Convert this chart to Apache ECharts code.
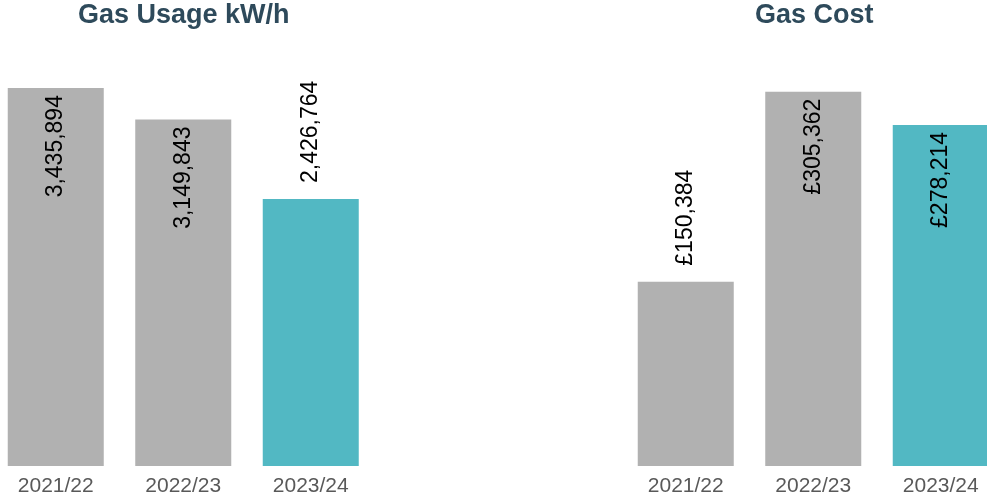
<!DOCTYPE html>
<html>
<head>
<meta charset="utf-8">
<script src="https://cdn.jsdelivr.net/npm/echarts@6/dist/echarts.min.js"></script>
<style>html,body{margin:0;padding:0;background:#fff;}#c{width:987px;height:503px;}</style>
</head>
<body>
<div id="c"></div>
<script>
const categories = ['2021/22', '2022/23', '2023/24'];
const gasUsage = [3435894, 3149843, 2426764];
const gasCost = [150384, 305362, 278214];
const titles = ['Gas Usage kW/h', 'Gas Cost'];

// label placement per bar (style config)
const usageInside = [true, true, false];
const costInside = [false, true, true];

const GREY = '#b1b1b1', TEAL = '#52b8c3';
const FONT = '"Liberation Sans", Arial, sans-serif';
const fmtNum = v => v.toLocaleString('en-GB');

function items(values, inside) {
  return values.map((v, i) => ({
    value: v,
    itemStyle: { color: i === values.length - 1 ? TEAL : GREY },
    label: inside[i]
      ? { position: 'insideTop', distance: 7, rotate: 90, align: 'right', verticalAlign: 'middle' }
      : { position: 'top', distance: 16, rotate: 90, align: 'left', verticalAlign: 'middle' }
  }));
}

const labelBase = { show: true, color: '#000', fontSize: 23, fontFamily: FONT };

const chart = echarts.init(document.getElementById('c'));
chart.setOption({
  animation: false,
  title: [
    { text: titles[0], left: 78, top: 2, padding: 0, textStyle: { fontSize: 27, fontWeight: 'bold', color: '#2e4a5b', fontFamily: FONT } },
    { text: titles[1], left: 755, top: 2, padding: 0, textStyle: { fontSize: 27, fontWeight: 'bold', color: '#2e4a5b', fontFamily: FONT } }
  ],
  grid: [
    { left: -8, width: 382.5, top: 26, height: 440, containLabel: false, outerBoundsMode: 'none' },
    { left: 622, width: 382.5, top: 37, height: 429, containLabel: false, outerBoundsMode: 'none' }
  ],
  xAxis: [0, 1].map(g => ({
    type: 'category', gridIndex: g, data: categories,
    axisLine: { show: false }, axisTick: { show: false },
    axisLabel: { fontSize: 21, color: '#595959', margin: 10, fontFamily: FONT }
  })),
  yAxis: [
    { type: 'value', gridIndex: 0, min: 0, max: 4000000, show: false, splitLine: { show: false } },
    { type: 'value', gridIndex: 1, min: 0, max: 350000, show: false, splitLine: { show: false } }
  ],
  series: [
    { type: 'bar', xAxisIndex: 0, yAxisIndex: 0, barWidth: 96, data: items(gasUsage, usageInside),
      label: Object.assign({}, labelBase, { formatter: p => fmtNum(p.value) }) },
    { type: 'bar', xAxisIndex: 1, yAxisIndex: 1, barWidth: 96, data: items(gasCost, costInside),
      label: Object.assign({}, labelBase, { formatter: p => '£' + fmtNum(p.value) }) }
  ]
});
</script>
</body>
</html>
